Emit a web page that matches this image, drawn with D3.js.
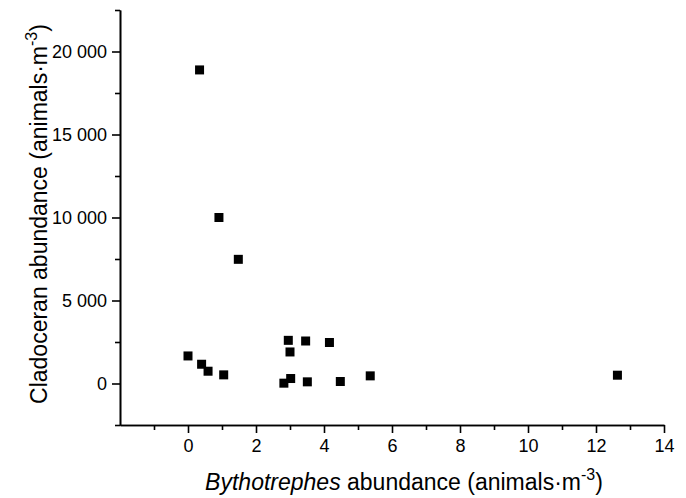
<!DOCTYPE html>
<html><head><meta charset="utf-8">
<script src="https://cdn.jsdelivr.net/npm/d3@7"></script>
<style>body{margin:0;background:#fff}svg{display:block}text{font-family:"Liberation Sans",Arial,sans-serif;fill:#000}</style>
</head><body><svg id="c" width="686" height="498"></svg>
<script>
const bythotrephes = [0.34, 0.91, 1.48, 0.0, 0.40, 0.59, 1.05, 2.82, 3.02, 2.95, 3.46, 3.0, 4.16, 3.51, 4.48, 5.36, 12.63];
const cladoceran  = [18890, 10000, 7480, 1660, 1160, 740, 520, 20, 300, 2600, 2560, 1900, 2470, 100, 120, 460, 500];
const xMajorTicks = [0, 2, 4, 6, 8, 10, 12, 14];
const xMinorTicks = [-1, 1, 3, 5, 7, 9, 11, 13];
const yMajorTicks = [0, 5000, 10000, 15000, 20000];
const yMinorTicks = [-2500, 2500, 7500, 12500, 17500, 22500];

const svg = d3.select("#c");
const x = d3.scaleLinear().domain([-2, 14]).range([120, 664]);
const y = d3.scaleLinear().domain([-2500, 22500]).range([425, 10]);
const loc = d3.formatLocale({decimal: ".", thousands: " ", grouping: [3], currency: ["", ""]});
const fmt = loc.format(",d");

// X axis
const gx = svg.append("g").attr("transform", "translate(0,425)");
gx.call(d3.axisBottom(x).tickValues(xMajorTicks).tickSize(8).tickSizeOuter(0).tickPadding(6).tickFormat(d3.format("d")));
gx.append("g").call(d3.axisBottom(x).tickValues(xMinorTicks).tickSize(5).tickSizeOuter(0).tickFormat(""));
// Y axis
const gy = svg.append("g").attr("transform", "translate(120,0)");
gy.call(d3.axisLeft(y).tickValues(yMajorTicks).tickSize(8).tickSizeOuter(0).tickPadding(5).tickFormat(fmt));
gy.append("g").call(d3.axisLeft(y).tickValues(yMinorTicks).tickSize(5).tickSizeOuter(0).tickFormat(""));

svg.selectAll(".domain").attr("stroke", "#000").attr("stroke-width", 1.6);
svg.selectAll(".tick line").attr("stroke", "#000").attr("stroke-width", 1.6);
svg.selectAll(".tick text").attr("font-size", 18).attr("font-family", "Liberation Sans, Arial, sans-serif").attr("fill", "#000");

// points
const s = 9;
svg.append("g").selectAll("rect").data(bythotrephes.map((d, i) => [d, cladoceran[i]])).join("rect")
  .attr("x", d => x(d[0]) - s / 2).attr("y", d => y(d[1]) - s / 2)
  .attr("width", s).attr("height", s).attr("fill", "#000");

// X title
const xt = svg.append("text").attr("x", 404).attr("y", 490).attr("text-anchor", "middle").attr("font-size", 23);
xt.append("tspan").attr("font-style", "italic").text("Bythotrephes");
xt.append("tspan").text(" abundance (animals\u00b7m");
xt.append("tspan").attr("dy", -10).attr("font-size", 16).text("-3");
xt.append("tspan").attr("dy", 10).text(")");

// Y title
const yt = svg.append("text").attr("transform", "translate(47,214) rotate(-90)").attr("text-anchor", "middle").attr("font-size", 23);
yt.append("tspan").text("Cladoceran abundance (animals\u00b7m");
yt.append("tspan").attr("dy", -10).attr("font-size", 16).text("-3");
yt.append("tspan").attr("dy", 10).text(")");
</script></body></html>
